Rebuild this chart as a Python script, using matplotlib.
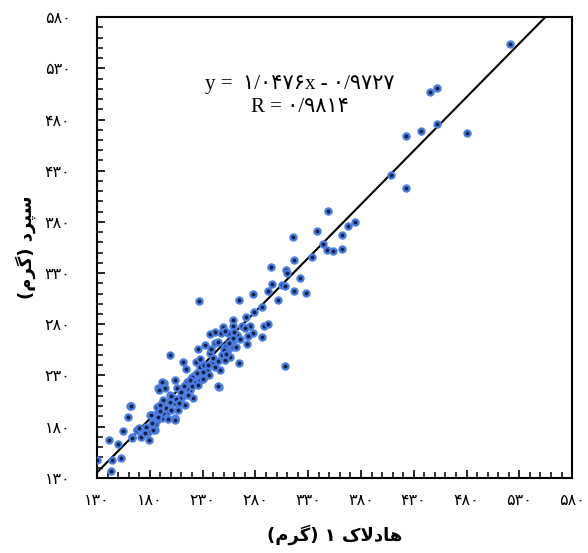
import numpy as np
import matplotlib
matplotlib.use("Agg")
import matplotlib.pyplot as plt
from matplotlib.ticker import MultipleLocator, FixedLocator

# observed pairs (x = Hadlock 1, y = Shepard), grams
x_vals = [521, 452, 445.5, 452, 436.6, 422.4, 480.2, 408.2, 422.4,
          348.5, 374.7, 368, 362, 338, 316, 344.4, 348, 353.3, 362, 333.3, 316.9,
          294.6, 309, 310.3, 322.3, 295.5, 305, 308, 292, 316.9, 328, 277.5, 301.7,
          264.8, 286.6, 279, 271.2, 258.5, 267.4, 275, 288.5, 292.3, 258.5, 277.5,
          262.3, 273.3, 286.6, 258.5, 272.4, 259.2, 264.8, 308,
          226.3, 249, 237, 247, 254, 259, 232.3, 241.8, 252.9, 225.4, 199.2, 237,
          248.1, 256, 211.6, 223.8, 238.7, 251.3, 214.3, 227.6, 233.9, 246.5, 222.8,
          231.4, 193.5, 203.9, 215, 222.8, 227.6, 245.6, 188, 205.5, 218.1, 199.2,
          210.2, 221.2, 192.8, 203.9, 213.4, 186.5, 196, 207, 183.3, 203.9, 191.2,
          241.8, 251.3, 245, 251.3, 253.5, 231.6, 220, 230.7, 191.6, 194.4, 189,
          216.5, 245, 199.2, 208.6, 189.7, 180.2, 192.2, 186.5, 203.9, 178.6, 179.3,
          184.9, 161.3, 167.6, 163,
          129.7, 143, 144, 152.5, 141.7, 149.6, 154.3, 163.2, 167.9, 159.7, 162.5,
          176.4, 183.3, 180.9, 204.2, 188,
          195, 200, 205, 210, 215, 220, 225, 230, 235, 240, 245, 250, 255, 260, 265,
          270, 200, 208, 218, 226, 236, 242, 252, 262, 185, 190, 197, 212, 228, 238,
          172, 175, 170, 182]
y_vals = [554, 511, 507, 475.6, 468.7, 464, 466.5, 425.8, 412.8,
          390.6, 380.2, 376.3, 367.5, 371, 365, 358, 352.6, 351.6, 353.5, 345.4, 343.1,
          336.3, 333, 329.8, 325.5, 319, 318.4, 317.4, 312.8, 312.8, 310.6, 309.9, 303.8,
          303.5, 297.2, 292.3, 286.9, 284.2, 278.4, 278.4, 278.4, 280.3, 277.8, 271.9,
          269.6, 268.6, 267.3, 264.7, 260.8, 258.2, 241.9, 239.6,
          302.5, 277.7, 270, 271.3, 271.3, 266.4, 259.8, 261.5, 255, 255.6, 250, 251.7,
          250, 248.4, 243.5, 243.5, 242, 245.2, 236.4, 238.6, 235.4, 235.4, 230.5,
          228.9, 222.4, 225.7, 224, 222.4, 225.7, 218.5, 217.5, 217.5, 215.9, 211,
          209.4, 207.8, 206.1, 202.9, 201.3, 199.6, 194.7, 196.4, 191.5, 188.3, 188.3,
          272, 273, 263, 258.2, 253.3, 240.3, 228.9, 226.3, 223.4, 217.5, 215.9,
          211, 219.2, 204.5, 207.8, 201.3, 191.5, 193, 186.6, 187.3, 175.2, 167,
          176.9, 200.3, 176.9, 169.4,
          146.9, 136.5, 147.6, 149.8, 167, 163.2, 175.6, 169, 176.6, 189.3, 200.3,
          180, 176.9, 191.5, 186.6, 189.8,
          198, 196, 207, 214, 218, 220, 232, 233, 240, 247, 244, 255, 262, 272, 266,
          276, 210, 203, 226, 221, 230, 238, 251, 258, 183, 195, 187, 220, 246, 256,
          170, 174, 179, 184]

slope = 1.0476
intercept = -0.9727
ticks = [130, 180, 230, 280, 330, 380, 430, 480, 530, 580]

FA = str.maketrans("0123456789", "۰۱۲۳۴۵۶۷۸۹")
tick_labels = [str(t).translate(FA) for t in ticks]

# Persian labels, pre-shaped (presentation forms) in visual order
xlabel = "(\ufee1\ufeae\ufb94) \u06f1 \ufb8e\ufefb\ufea9\ufe8e\ufeeb"
ylabel = "(\ufee1\ufeae\ufb94) \ufea9\ufeae\ufb59\ufeb3"
eq_text = "y =  " + "۱/۰۴۷۶" + "x - " + "۰/۹۷۲۷"
r_text = "R = " + "۰/۹۸۱۴"

fig = plt.figure(figsize=(5.88, 5.53), dpi=100)
ax = fig.add_axes([0.165, 0.136, 0.808, 0.833])

ax.scatter(x_vals, y_vals, s=20, c="#14204a", edgecolors="#4a7ee0",
           linewidths=1.6, zorder=3)

lx = np.array([130, 580])
ax.plot(lx, slope * lx + intercept, color="black", lw=1.5, zorder=2)

ax.set_xlim(130, 580)
ax.set_ylim(130, 580)
ax.xaxis.set_major_locator(FixedLocator(ticks))
ax.yaxis.set_major_locator(FixedLocator(ticks))
ax.xaxis.set_minor_locator(MultipleLocator(10))
ax.yaxis.set_minor_locator(MultipleLocator(10))
ax.set_xticklabels(tick_labels, family=["DejaVu Sans"], fontsize=11.5)
ax.set_yticklabels(tick_labels, family=["DejaVu Sans"], fontsize=11.5)
ax.tick_params(which="major", direction="in", length=6, width=1.2,
               top=False, right=False)
ax.tick_params(which="minor", direction="in", length=4.5, width=1.1,
               top=False, right=False)
ax.tick_params(axis="x", which="major", pad=11)
ax.tick_params(axis="y", which="major", pad=19)
for sp in ax.spines.values():
    sp.set_linewidth(1.5)

ax.set_xlabel(xlabel, family=["DejaVu Sans"], fontsize=13, fontweight="bold",
              labelpad=12)
ax.set_ylabel(ylabel, family=["DejaVu Sans"], fontsize=13, fontweight="bold",
              labelpad=6)

ax.text(322, 514, eq_text, family=["Liberation Serif", "DejaVu Sans"],
        fontsize=15, ha="center", va="center")
ax.text(322, 492, r_text, family=["Liberation Serif", "DejaVu Sans"],
        fontsize=15, ha="center", va="center")

fig.savefig("out.png", dpi=100)
